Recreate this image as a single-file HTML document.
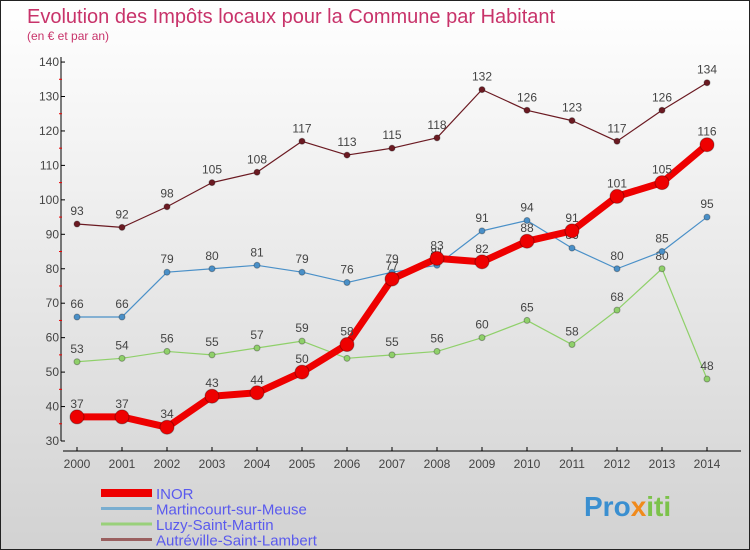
<!DOCTYPE html>
<html><head><meta charset="utf-8"><style>
body{margin:0}
#c{width:750px;height:550px;position:relative;box-sizing:border-box;border:1px solid #222;background:linear-gradient(#ffffff,#d2d2d2);font-family:"Liberation Sans",sans-serif;overflow:hidden}
svg{position:absolute;left:0;top:0}
</style></head><body>
<div id="c">
<svg id="s" width="750" height="550">
<text x="26" y="22" font-size="20" fill="#c8336a">Evolution des Impôts locaux pour la Commune par Habitant</text>
<text x="26" y="39" font-size="12" fill="#c8336a">(en € et par an)</text>
<text x="583" y="515" font-size="28" font-weight="bold" fill="#3a8fd0">Pro<tspan fill="#f08a1c">x</tspan><tspan fill="#7cc24a">iti</tspan></text>
</svg>
</div>
<script>
const years=[2000,2001,2002,2003,2004,2005,2006,2007,2008,2009,2010,2011,2012,2013,2014];
const yTicks=[30,40,50,60,70,80,90,100,110,120,130,140];
const inor=[37,37,34,43,44,50,58,77,83,82,88,91,101,105,116];
const martin=[66,66,79,80,81,79,76,79,81,91,94,86,80,85,95];
const luzy=[53,54,56,55,57,59,54,55,56,60,65,58,68,80,48];
const autre=[93,92,98,105,108,117,113,115,118,132,126,123,117,126,134];
const s=document.getElementById('s');const NS='http://www.w3.org/2000/svg';
const X=i=>76+i*45, Y=v=>440-(v-30)*3.445;
function mk(t,a,p){const e=document.createElementNS(NS,t);for(const k in a)e.setAttribute(k,a[k]);(p||s).appendChild(e);return e;}
let e;
e=mk('line',{x1:60,y1:56,x2:60,y2:440,stroke:'#000'});


e=mk('line',{x1:62,y1:450,x2:740,y2:450,stroke:'#000'});


yTicks.forEach((v,i)=>{mk('line',{x1:60,y1:Y(v),x2:64,y2:Y(v),stroke:'#000'});
 if(i<yTicks.length-1)mk('line',{x1:58,y1:Y(v+5),x2:61,y2:Y(v+5),stroke:'#e00'});
 e=mk('text',{x:58,y:Y(v)+4,'font-size':12,fill:'#444','text-anchor':'end'});e.textContent=v;
 
 });
years.forEach((y,i)=>{mk('line',{x1:X(i),y1:446,x2:X(i),y2:450,stroke:'#000'});
 e=mk('text',{x:X(i),y:467,'font-size':12,fill:'#444','text-anchor':'middle'});e.textContent=y;
 
 });
function series(d,col,w,r,name){const g=mk('g',{});
 
 
 mk('polyline',{points:d.map((v,i)=>X(i)+','+Y(v)).join(' '),fill:'none',stroke:col,'stroke-width':w,'stroke-linejoin':'round'},g);
 d.forEach((v,i)=>{const c=mk('circle',{cx:X(i),cy:Y(v),r:r,fill:col,stroke:'rgba(0,0,0,0.3)'},g);
  
  
  const t=mk('text',{x:X(i),y:Y(v)-9,'font-size':12,fill:'#444','text-anchor':'middle'},g);t.textContent=v;
  
  });}
series(autre,'#6b1a22',1.2,3,'autreville');
series(luzy,'#8fd06a',1.2,3,'luzy');
series(martin,'#4a90c8',1.2,3,'martincourt');
series(inor,'#ee0000',7,7,'inor');
const leg=[['INOR','#ee0000',8],['Martincourt-sur-Meuse','#7aaed0',3],['Luzy-Saint-Martin','#99d07a',3],['Autréville-Saint-Lambert','#9a6060',3]];
leg.forEach((l,i)=>{const y=492+i*15.5;
 e=mk('line',{x1:100,y1:y,x2:151,y2:y,stroke:l[1],'stroke-width':l[2]});
 
 
 e=mk('text',{x:155,y:y+6,'font-size':15,fill:'#5a5aee'});e.textContent=l[0];
 
 });
</script>
</body></html>
